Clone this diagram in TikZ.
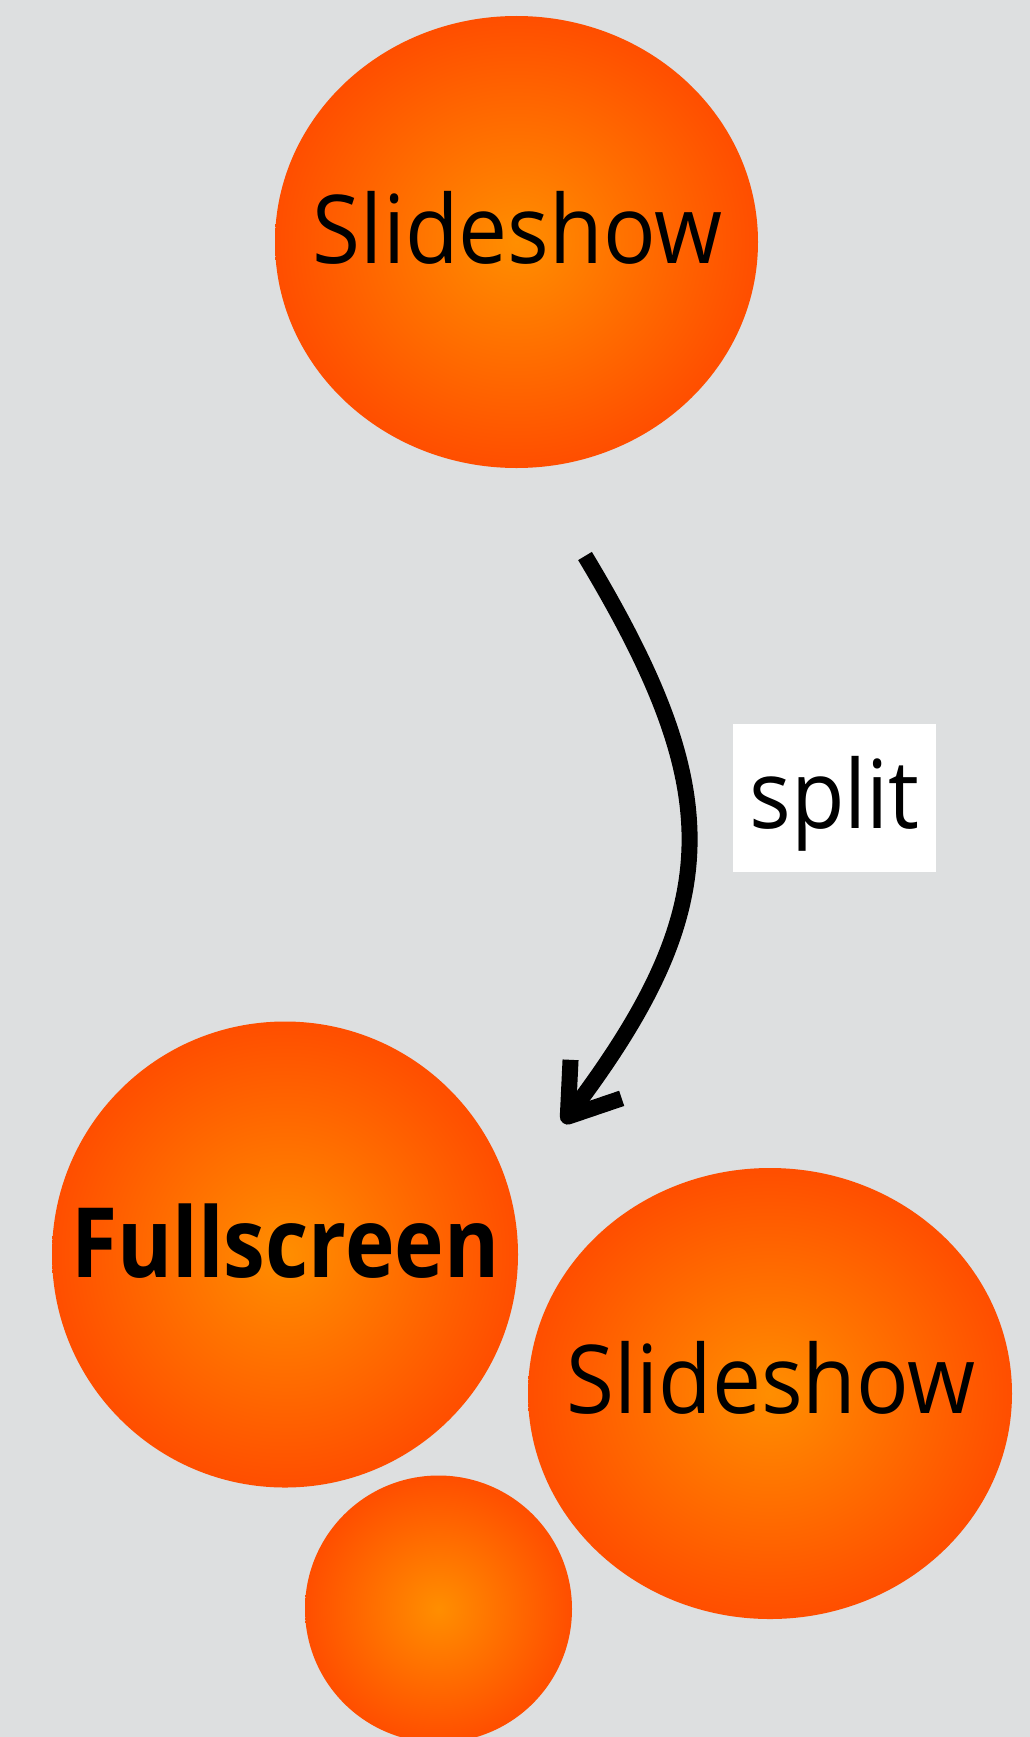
\documentclass[tikz,border=0pt]{standalone}
\usepackage{fontspec}
\newfontfamily\orbfont{Open Sans}[FakeStretch=0.92, BoldFeatures={FakeStretch=0.865}]
\usetikzlibrary{arrows.meta,shapes.geometric}
\definecolor{bg}{HTML}{DDDFE0}
\definecolor{orbin}{RGB}{255,142,0}
\definecolor{orbout}{RGB}{255,78,0}
\begin{document}
\begin{tikzpicture}[x=1pt,y=1pt,
  orb/.style={ellipse, shading=radial, inner color=orbin, outer color=orbout, inner sep=0pt, draw=none},
  orbtext/.style={anchor=base, inner sep=0pt, font=\orbfont\fontsize{95}{100}\selectfont},
  flow/.style={line width=16pt, -{Straight Barb[length=47pt,width=64pt,line cap=butt,line join=round]}}]
\fill[bg] (0,0) rectangle (1030,-1737);
\useasboundingbox (0,0) rectangle (1030,-1737);
\clip (0,0) rectangle (1030,-1737);
% top orb
\node[orb, minimum width=483pt, minimum height=452pt] (top) at (516.5,-242) {};
\node[orbtext] (toptext) at (517.5,-263) {Slideshow};
% bottom orbs
\node[orb, minimum width=466pt, minimum height=466pt] (full) at (285,-1254.5) {};
\node[orbtext, font=\orbfont\bfseries\fontsize{97}{100}\selectfont] (fulltext) at (285.5,-1277) {Fullscreen};
\node[orb, minimum width=484pt, minimum height=451pt] (slide) at (770,-1393.5) {};
\node[orbtext] (slidetext) at (771,-1413) {Slideshow};
\node[orb, minimum width=267pt, minimum height=267pt] (small) at (438.5,-1609) {};
% arrow
\coordinate (arrowstart) at (585,-556);
\coordinate (arrowend) at (563,-1123);
\draw[flow] (arrowstart) to[out=-59,in=53,looseness=1.23] (arrowend);
\node[fill=white, minimum width=203pt, minimum height=148pt, inner sep=0pt, text height=70pt, text depth=10pt, font=\orbfont\fontsize{95}{100}\selectfont] (splitlabel) at (834.5,-798) {split};
\end{tikzpicture}
\end{document}
